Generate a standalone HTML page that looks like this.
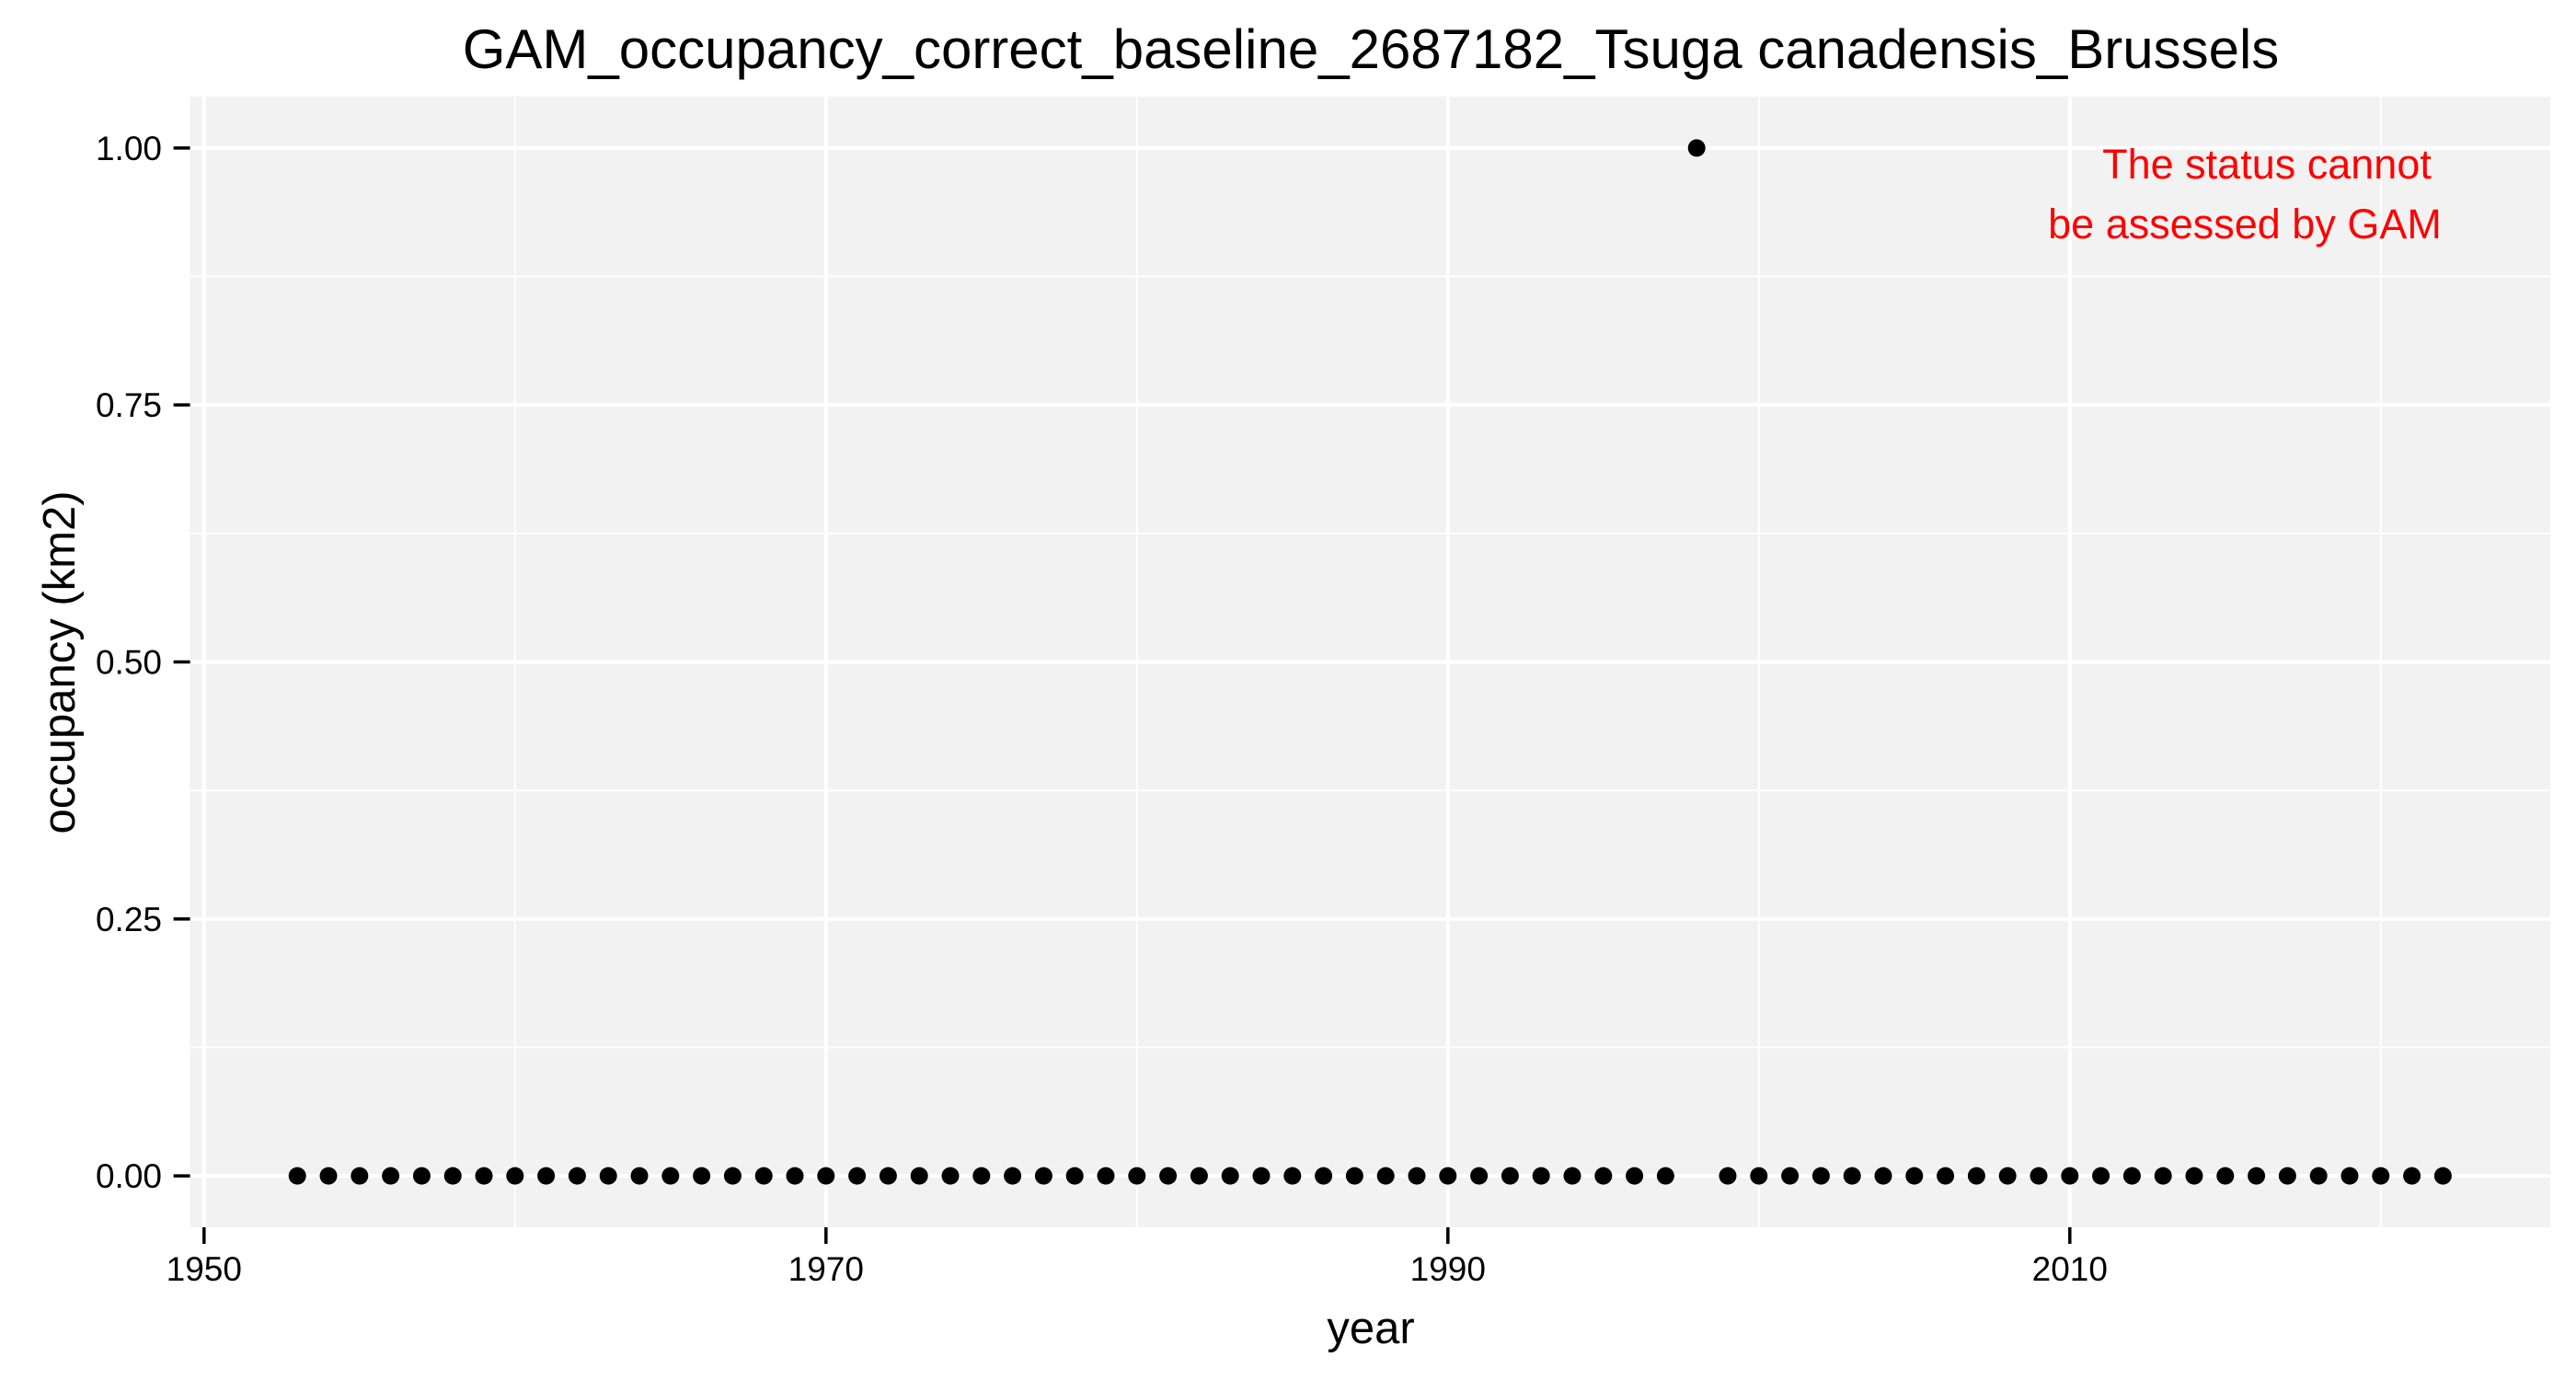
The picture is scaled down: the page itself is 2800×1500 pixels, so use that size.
<!DOCTYPE html>
<html><head><meta charset="utf-8"><style>
html,body{margin:0;padding:0;background:#fff;}
svg{display:block;font-family:"Liberation Sans",Arial,sans-serif;}
</style></head><body>
<svg id="chart" width="2800" height="1500" viewBox="0 0 2800 1500" xmlns="http://www.w3.org/2000/svg">
<text x="1490" y="74" font-size="60" text-anchor="middle" fill="#000">GAM_occupancy_correct_baseline_2687182_Tsuga canadensis_Brussels</text>
<rect x="206.6" y="105" width="2565.4" height="1229" fill="#f2f2f2"/>
<g id="grid"></g>
<g id="axes"></g>
<g id="points"></g>
<text x="2464" y="194" font-size="45" text-anchor="middle" fill="#ff0000">The status cannot</text>
<text x="2440" y="259" font-size="45" text-anchor="middle" fill="#ff0000">be assessed by GAM</text>
<text x="1490" y="1460" font-size="49" text-anchor="middle" fill="#000">year</text>
<text transform="translate(81,720) rotate(-90)" font-size="49" text-anchor="middle" fill="#000">occupancy (km2)</text>
</svg>
<script>
const years = [];
for (let y = 1953; y <= 2022; y++) if (y !== 1998) years.push(y);
years.push(1998);
const occupancy = years.map(y => y === 1998 ? 1 : 0);
const xTicks = [1950, 1970, 1990, 2010];
const xMinor = [1960, 1980, 2000, 2020];
const yTicks = [0, 0.25, 0.5, 0.75, 1];
const yTickLabels = ["0.00", "0.25", "0.50", "0.75", "1.00"];
const yMinor = [0.125, 0.375, 0.625, 0.875];

const X0 = 206.6, X1 = 2772, Y0 = 1334, Y1 = 105;
const xMin = 1949.55, xMax = 2025.45, yMin = -0.05, yMax = 1.05;
const sx = v => X0 + (v - xMin) / (xMax - xMin) * (X1 - X0);
const sy = v => Y0 - (v - yMin) / (yMax - yMin) * (Y0 - Y1);
const NS = "http://www.w3.org/2000/svg";
const mk = (tag, attrs, parent) => { const e = document.createElementNS(NS, tag); for (const k in attrs) e.setAttribute(k, attrs[k]); parent.appendChild(e); return e; };
const grid = document.getElementById('grid'), axes = document.getElementById('axes'), pts = document.getElementById('points');

xMinor.forEach(v => { const l = mk('line', {x1: sx(v), x2: sx(v), y1: Y1, y2: Y0, stroke: '#fff', 'stroke-width': 2}, grid);
    });
yMinor.forEach(v => { const l = mk('line', {x1: X0, x2: X1, y1: sy(v), y2: sy(v), stroke: '#fff', 'stroke-width': 2}, grid);
    });
xTicks.forEach(v => {
  const l = mk('line', {x1: sx(v), x2: sx(v), y1: Y1, y2: Y0, stroke: '#fff', 'stroke-width': 4}, grid);
   
  const t = mk('line', {x1: sx(v), x2: sx(v), y1: Y0, y2: Y0 + 18, stroke: '#000', 'stroke-width': 3.5}, axes);
   
  const tx = mk('text', {x: sx(v), y: 1392, 'font-size': 37, 'text-anchor': 'middle', fill: '#000'}, axes);
   
  tx.textContent = v;
});
yTicks.forEach((v, i) => {
  const l = mk('line', {x1: X0, x2: X1, y1: sy(v), y2: sy(v), stroke: '#fff', 'stroke-width': 4}, grid);
   
  const t = mk('line', {x1: X0 - 18, x2: X0, y1: sy(v), y2: sy(v), stroke: '#000', 'stroke-width': 3.5}, axes);
   
  const tx = mk('text', {x: 176, y: sy(v) + 13, 'font-size': 37, 'text-anchor': 'end', fill: '#000'}, axes);
   
  tx.textContent = yTickLabels[i];
});
years.forEach((y, i) => {
  const c = mk('circle', {cx: sx(y), cy: sy(occupancy[i]), r: 9.5, fill: '#000'}, pts);
  
  
});
</script>
</body></html>
